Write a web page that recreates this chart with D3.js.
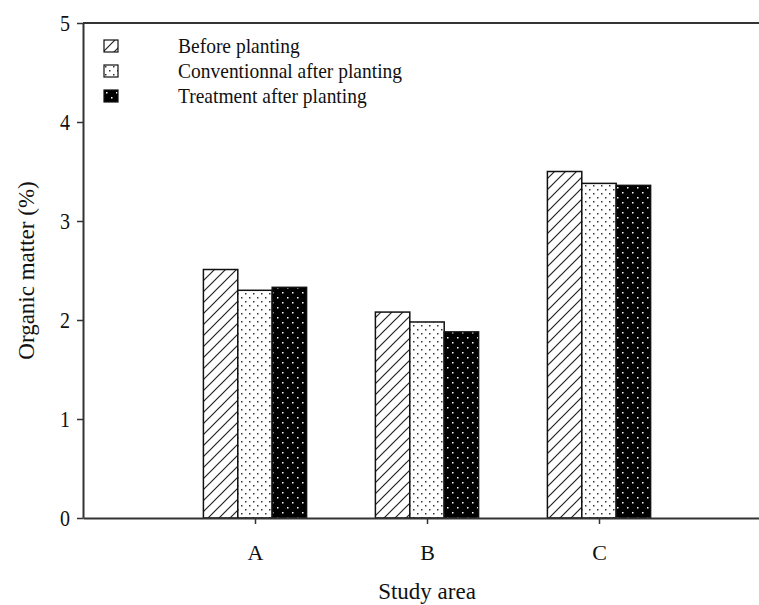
<!DOCTYPE html>
<html>
<head>
<meta charset="utf-8">
<script src="https://cdn.jsdelivr.net/npm/d3@7"></script>
<style>
  html, body { margin: 0; padding: 0; background: #fff; }
  svg { display: block; }
  text { font-family: "Liberation Serif", "DejaVu Serif", serif; fill: #111; }
</style>
</head>
<body>
<svg id="chart" width="759" height="605"></svg>
<script>
// Study areas and organic matter (%) for each sampling stage
const areas = ["A", "B", "C"];
const seriesNames = ["Before planting", "Conventionnal after planting", "Treatment after planting"];
const beforePlanting = [2.51, 2.08, 3.50];
const conventionalAfter = [2.30, 1.98, 3.38];
const treatmentAfter = [2.33, 1.88, 3.36];
const yTicks = [0, 1, 2, 3, 4, 5];

const seriesValues = [beforePlanting, conventionalAfter, treatmentAfter];
const fills = ["url(#hatch)", "url(#dots)", "url(#darkdots)"];

const svg = d3.select("#chart");

// fill patterns
const defs = svg.append("defs");
const hatch = defs.append("pattern").attr("id", "hatch")
  .attr("patternUnits", "userSpaceOnUse").attr("width", 11).attr("height", 11);
hatch.append("rect").attr("width", 11).attr("height", 11).attr("fill", "#fff");
hatch.append("path").attr("d", "M0,11 L11,0 M-3,3 L3,-3 M8,14 L14,8")
  .attr("stroke", "#222").attr("stroke-width", 1.2);

const dots = defs.append("pattern").attr("id", "dots")
  .attr("patternUnits", "userSpaceOnUse").attr("width", 8).attr("height", 8);
dots.append("rect").attr("width", 8).attr("height", 8).attr("fill", "#fff");
dots.append("rect").attr("x", 1).attr("y", 1).attr("width", 1.5).attr("height", 1.5).attr("fill", "#333");
dots.append("rect").attr("x", 5).attr("y", 5).attr("width", 1.5).attr("height", 1.5).attr("fill", "#333");

const darkdots = defs.append("pattern").attr("id", "darkdots")
  .attr("patternUnits", "userSpaceOnUse").attr("width", 10).attr("height", 10);
darkdots.append("rect").attr("width", 10).attr("height", 10).attr("fill", "#000");
darkdots.append("rect").attr("x", 2).attr("y", 2).attr("width", 1.5).attr("height", 1.5).attr("fill", "#fff");
darkdots.append("rect").attr("x", 7).attr("y", 7).attr("width", 1.5).attr("height", 1.5).attr("fill", "#fff");

// scales: categories sit at positions 1..3 on a 0..4 axis
const x = d3.scaleLinear().domain([0, 4]).range([83, 771]);
const y = d3.scaleLinear().domain([0, 5]).range([518, 23]);
const barW = (x(1) - x(0)) * 0.2;

// frame line at top
svg.append("line")
  .attr("x1", x(0)).attr("x2", 759)
  .attr("y1", y(5)).attr("y2", y(5))
  .attr("stroke", "#333").attr("stroke-width", 2);

// bars
areas.forEach((area, ai) => {
  seriesValues.forEach((vals, si) => {
    svg.append("rect")
      .attr("x", x(ai + 1) + (si - 1.5) * barW)
      .attr("y", y(vals[ai]))
      .attr("width", barW)
      .attr("height", y(0) - y(vals[ai]))
      .attr("fill", fills[si])
      .attr("stroke", "#111")
      .attr("stroke-width", 1.5);
  });
});

// y axis (labels slightly stretched vertically, centred on their ticks)
const yAxis = svg.append("g")
  .attr("transform", `translate(${x(0)},0)`)
  .call(d3.axisLeft(y).tickValues(yTicks).tickFormat(d3.format("d")).tickSize(6).tickPadding(7).tickSizeOuter(0));
yAxis.selectAll("text")
  .attr("font-size", 20).style("font-family", "Liberation Serif")
  .attr("transform", "scale(1,1.12)");

// x axis
const xAxis = svg.append("g")
  .attr("transform", `translate(0,${y(0)})`)
  .call(d3.axisBottom(x).tickValues([1, 2, 3]).tickFormat((d) => areas[d - 1]).tickSize(6).tickPadding(20).tickSizeOuter(0));
xAxis.selectAll("text").attr("font-size", 22).style("font-family", "Liberation Serif");

[yAxis, xAxis].forEach((g) => {
  g.select(".domain").attr("stroke", "#333").attr("stroke-width", 2);
  g.selectAll(".tick line").attr("stroke", "#333").attr("stroke-width", 1.5);
});

// axis titles
svg.append("text")
  .attr("x", x(2)).attr("y", 599)
  .attr("text-anchor", "middle").attr("font-size", 23)
  .text("Study area");
svg.append("text")
  .attr("transform", `translate(34,${y(2.5)}) rotate(-90)`)
  .attr("text-anchor", "middle").attr("font-size", 23)
  .text("Organic matter (%)");

// legend
const legend = svg.append("g").attr("transform", "translate(104,40)");
seriesNames.forEach((name, i) => {
  const row = legend.append("g").attr("transform", `translate(0,${i * 25})`);
  row.append("rect").attr("width", 14).attr("height", 12)
    .attr("fill", fills[i]).attr("stroke", "#111").attr("stroke-width", 1.2);
  row.append("text").attr("transform", "translate(74,13) scale(1,1.1)")
    .attr("font-size", 19.5).text(name);
});
</script>
</body>
</html>
